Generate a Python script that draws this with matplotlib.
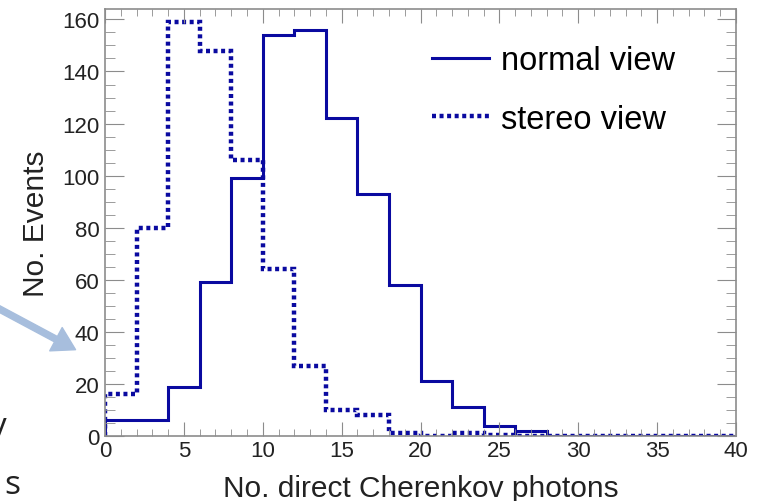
import numpy as np
import matplotlib.pyplot as plt
from matplotlib.patches import FancyArrowPatch
from matplotlib.ticker import MultipleLocator

# Histogram data (bin width 2, range 0-40)
edges = np.arange(0, 42, 2)
normal_view = [6, 6, 19, 59, 99, 154, 156, 122, 93, 58,
               21, 11, 4, 2, 0, 0, 0, 0, 0, 0]
stereo_view = [16, 80, 159, 148, 106, 64, 27, 10, 8, 1,
               0, 1, 0.3, 0, 0, 0, 0, 0, 0, 0]

blue = '#0a0aa0'
grey = '#8c8c8c'
plt.rcParams['font.family'] = ['Liberation Sans', 'DejaVu Sans']

W, H = 758, 502
fig = plt.figure(figsize=(W / 100, H / 100), dpi=100)
ax = fig.add_axes([105 / W, 65 / H, 631 / W, 427 / H])

ax.stairs(normal_view, edges, color=blue, linewidth=2.2, label='normal view')
ax.stairs(stereo_view, edges, color=blue, linewidth=3.2,
          linestyle=(0, (0.9, 0.8)), label='stereo view')

ax.set_xlim(0, 40)
ax.set_ylim(0, 164)
ax.xaxis.set_major_locator(MultipleLocator(5))
ax.xaxis.set_minor_locator(MultipleLocator(1))
ax.yaxis.set_major_locator(MultipleLocator(20))
ax.yaxis.set_minor_locator(MultipleLocator(5))

ax.tick_params(which='both', direction='in', top=True, right=True,
               color=grey, labelsize=16, labelcolor='#222222')
ax.tick_params(axis='y', which='major', length=14, pad=4)
ax.tick_params(axis='y', which='minor', length=7)
ax.tick_params(axis='x', which='major', length=10, pad=3)
ax.tick_params(axis='x', which='minor', length=5)
for s in ax.spines.values():
    s.set_color(grey)
    s.set_linewidth(1.2)

ax.set_xlabel('No. direct Cherenkov photons', fontsize=21.5, color='#222222',
              labelpad=9)
ax.set_ylabel('No. Events', fontsize=21.5, color='#222222', labelpad=9)

ax.legend(loc='upper left', bbox_to_anchor=(432 / W, 1 - 46 / H),
          bbox_transform=fig.transFigure, frameon=False, fontsize=23.5,
          handlelength=1.75, handletextpad=0.35, labelspacing=0.85,
          borderpad=0, borderaxespad=0)

# pointer arrow and cut-off slide text on the left
arrow = FancyArrowPatch((-8 / W, 1 - 306 / H), (78 / W, 1 - 352 / H),
                        transform=fig.transFigure, color='#a7bedd',
                        arrowstyle='simple,head_width=0.95,head_length=0.8,tail_width=0.22',
                        mutation_scale=20, clip_on=False)
fig.add_artist(arrow)
fig.text(-11 / W, 1 - 436 / H, 'y', fontsize=24, family='Open Sans',
         color='#222222', va='baseline')
fig.text(4 / W, 1 - 494 / H, 's', fontsize=24, family='Open Sans',
         color='#222222', va='baseline')

fig.savefig('out.png', dpi=100)
